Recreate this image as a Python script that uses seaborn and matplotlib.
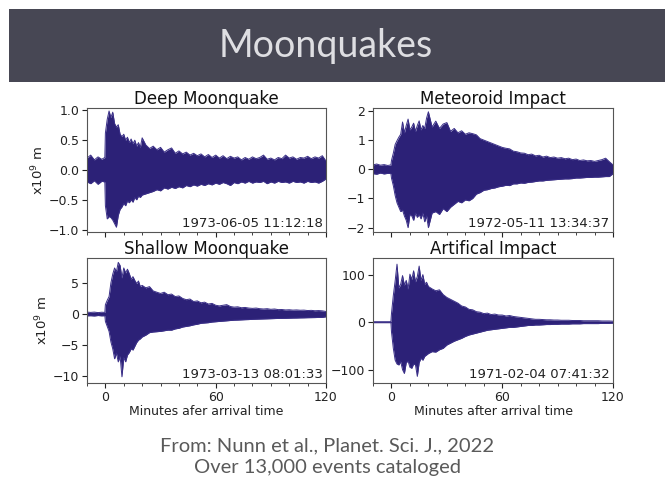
import numpy as np
import matplotlib
matplotlib.use("Agg")
import matplotlib.pyplot as plt
from matplotlib.ticker import MultipleLocator, FixedLocator
import pandas as pd
import seaborn as sns

sns.set_theme(style="ticks")
plt.rcParams['font.family'] = ['DejaVu Sans']

# minutes after arrival time (sampling of the read-off envelopes)
t_min = [-10, -8, -6, -4, -2, -0.3,
         0, 1, 2, 3, 4, 5, 6, 7, 8, 9, 10,
         11, 12, 13, 14, 15, 16, 17, 18, 19, 20,
         22, 24, 26, 28, 30, 32, 34, 36, 38, 40,
         42, 44, 46, 48, 50, 52, 54, 56, 58, 60,
         62, 64, 66, 68, 70, 72, 74, 76, 78, 80,
         82, 84, 86, 88, 90, 92, 94, 96, 98, 100,
         102, 104, 106, 108, 110, 112, 114, 116, 118, 120]

# envelope of each trace (x10^9 m), upper and lower
deep_up = [0.20, 0.25, 0.17, 0.22, 0.18, 0.21,
           0.62, 0.85, 0.99, 0.88, 0.97, 0.78, 0.72, 0.76, 0.60, 0.56, 0.60,
           0.50, 0.55, 0.46, 0.52, 0.44, 0.50, 0.40, 0.46, 0.38, 0.54,
           0.42, 0.36, 0.40, 0.34, 0.38, 0.30, 0.34, 0.37, 0.28, 0.32,
           0.27, 0.30, 0.25, 0.28, 0.24, 0.27, 0.22, 0.26, 0.21, 0.25,
           0.20, 0.24, 0.19, 0.23, 0.20, 0.22, 0.17, 0.21, 0.18, 0.22,
           0.19, 0.21, 0.25, 0.18, 0.20, 0.17, 0.21, 0.19, 0.25, 0.20,
           0.22, 0.18, 0.21, 0.20, 0.23, 0.19, 0.22, 0.20, 0.24, 0.15]
deep_lo = [-0.20, -0.23, -0.18, -0.24, -0.19, -0.20,
           -0.60, -0.82, -0.78, -0.80, -0.84, -0.90, -0.96, -0.76, -0.66, -0.62, -0.56,
           -0.60, -0.52, -0.55, -0.50, -0.54, -0.46, -0.50, -0.44, -0.46, -0.42,
           -0.40, -0.38, -0.36, -0.33, -0.35, -0.30, -0.32, -0.29, -0.31, -0.28,
           -0.30, -0.26, -0.28, -0.25, -0.27, -0.24, -0.26, -0.23, -0.25, -0.22,
           -0.24, -0.21, -0.23, -0.26, -0.21, -0.23, -0.20, -0.22, -0.19, -0.22,
           -0.20, -0.21, -0.19, -0.23, -0.20, -0.22, -0.19, -0.21, -0.20, -0.22,
           -0.19, -0.21, -0.20, -0.22, -0.19, -0.21, -0.20, -0.22, -0.19, -0.15]

met_up = [0.15, 0.18, 0.14, 0.16, 0.13, 0.15,
          0.30, 0.55, 0.85, 0.98, 1.10, 1.20, 1.62, 1.25, 1.50, 1.72, 1.35,
          1.45, 1.58, 1.30, 1.50, 1.66, 1.35, 1.50, 1.40, 1.75, 1.97,
          1.45, 1.65, 1.40, 1.55, 1.60, 1.30, 1.40, 1.25, 1.32, 1.20,
          1.25, 1.22, 1.18, 1.05, 1.00, 0.95, 0.90, 0.85, 0.80, 0.75,
          0.72, 0.70, 0.62, 0.60, 0.56, 0.55, 0.50, 0.52, 0.46, 0.48,
          0.42, 0.45, 0.40, 0.42, 0.38, 0.40, 0.36, 0.38, 0.33, 0.35,
          0.30, 0.32, 0.29, 0.30, 0.27, 0.30, 0.33, 0.38, 0.26, 0.15]
met_lo = [-0.15, -0.17, -0.13, -0.16, -0.14, -0.15,
          -0.30, -0.56, -0.90, -1.15, -1.30, -1.45, -1.40, -1.60, -1.75, -2.00, -1.55,
          -1.60, -1.75, -1.50, -1.65, -1.55, -1.70, -1.50, -1.80, -1.60, -2.00,
          -1.50, -1.45, -1.55, -1.35, -1.45, -1.30, -1.20, -1.10, -1.15, -1.05,
          -1.08, -1.00, -0.85, -0.80, -0.72, -0.70, -0.66, -0.64, -0.60, -0.58,
          -0.55, -0.56, -0.50, -0.50, -0.47, -0.48, -0.45, -0.44, -0.42, -0.40,
          -0.40, -0.38, -0.37, -0.36, -0.35, -0.34, -0.33, -0.33, -0.32, -0.30,
          -0.30, -0.29, -0.28, -0.28, -0.27, -0.27, -0.26, -0.25, -0.25, -0.15]

shal_up = [0.30, 0.25, 0.30, 0.22, 0.28, 0.25,
           1.5, 2.2, 2.8, 5.0, 6.4, 7.4, 6.8, 8.3, 7.8, 5.8, 7.4,
           6.6, 7.2, 6.5, 5.6, 6.0, 5.4, 4.9, 5.3, 4.4, 4.6,
           4.2, 4.4, 3.7, 3.5, 3.3, 3.5, 3.1, 3.2, 2.8, 2.9,
           2.5, 2.3, 2.4, 2.0, 2.1, 1.8, 1.9, 1.6, 1.7, 1.4,
           1.3, 1.4, 1.5, 1.2, 1.1, 1.15, 1.0, 1.05, 0.95, 0.9,
           0.95, 0.85, 0.8, 0.85, 0.75, 0.8, 0.7, 0.72, 0.65, 0.68,
           0.62, 0.65, 0.6, 0.62, 0.55, 0.58, 0.52, 0.55, 0.5, 0.4]
shal_lo = [-0.30, -0.28, -0.32, -0.25, -0.30, -0.28,
           -1.2, -2.0, -2.8, -4.5, -5.6, -7.2, -6.3, -7.7, -6.8, -10.1, -7.0,
           -7.7, -6.6, -6.2, -5.6, -5.8, -5.2, -4.6, -4.2, -4.0, -3.7,
           -3.4, -3.0, -2.9, -2.85, -2.8, -2.7, -2.6, -2.6, -2.4, -2.3,
           -2.1, -2.0, -1.9, -1.75, -1.65, -1.5, -1.45, -1.4, -1.3, -1.25,
           -1.2, -1.15, -1.1, -1.05, -1.0, -0.98, -0.95, -0.92, -0.9, -0.86,
           -0.84, -0.82, -0.8, -0.78, -0.76, -0.74, -0.72, -0.71, -0.7, -0.68,
           -0.66, -0.65, -0.63, -0.62, -0.6, -0.59, -0.58, -0.56, -0.55, -0.45]

art_up = [1, 1, 1, 1, 1, 1,
          18, 56, 87, 122, 72, 80, 98, 78, 88, 70, 101,
          90, 108, 85, 96, 118, 88, 100, 80, 84, 75,
          70, 66, 68, 58, 52, 48, 44, 40, 34, 32,
          27, 26, 22, 21, 18, 19, 16, 17, 15, 15,
          13, 14, 12, 11, 10, 9, 8, 7, 6, 6,
          5.5, 5, 5, 4.5, 4.5, 4, 4, 4, 3.5, 3.5,
          3.5, 3, 3, 3, 3, 3, 2.5, 2.5, 2.5, 2]
art_lo = [-1, -1, -1, -1, -1, -1,
          -20, -55, -80, -88, -90, -83, -100, -108, -85, -82, -95,
          -97, -88, -90, -114, -85, -76, -80, -72, -69, -66,
          -62, -63, -58, -55, -48, -44, -40, -37, -34, -30,
          -27, -25, -23, -21, -19, -17, -16, -15, -14, -13,
          -12, -11, -11, -10, -9, -8, -7, -7, -6, -6,
          -5.5, -5, -5, -4.5, -4.5, -4, -4, -4, -3.5, -3.5,
          -3.5, -3, -3, -3, -3, -3, -2.5, -2.5, -2.5, -2]

titles = ["Deep Moonquake", "Meteoroid Impact", "Shallow Moonquake", "Artifical Impact"]
dates = ["1973-06-05 11:12:18", "1972-05-11 13:34:37", "1973-03-13 08:01:33", "1971-02-04 07:41:32"]
yticks = [[-1.0, -0.5, 0.0, 0.5, 1.0], [-2, -1, 0, 1, 2], [-10, -5, 0, 5], [-100, 0, 100]]
ylims = [(-1.04, 1.04), (-2.15, 2.1), (-11.1, 9.0), (-128, 135)]
xlabels = [None, None, "Minutes afer arrival time", "Minutes after arrival time"]
uppers = [deep_up, met_up, shal_up, art_up]
lowers = [deep_lo, met_lo, shal_lo, art_lo]

color = "#2c2177"
slide_font = ["Lato", "DejaVu Sans"]

fig = plt.figure(figsize=(6.65, 4.84), dpi=100)
fig.patch.set_facecolor("white")

# slide header
fig.patches.append(plt.Rectangle((9 / 665, 1 - 82 / 484), 1, 73 / 484, transform=fig.transFigure,
                                 facecolor="#474754", edgecolor="none", zorder=0))
fig.text(0.49, 0.905, "Moonquakes", ha="center", va="center", color="#dedee2",
         fontsize=27, family=slide_font)

positions = [[87 / 665, 1 - 232 / 484, 239 / 665, 124 / 484],
             [373 / 665, 1 - 232 / 484, 240 / 665, 124 / 484],
             [87 / 665, 1 - 383 / 484, 239 / 665, 125 / 484],
             [373 / 665, 1 - 383 / 484, 240 / 665, 125 / 484]]

for i in range(4):
    ax = fig.add_axes(positions[i])
    df = pd.DataFrame({"t": t_min, "up": uppers[i], "lo": lowers[i]})
    ax.fill_between(df["t"], df["lo"], df["up"], color=color, linewidth=0)
    sns.lineplot(data=df, x="t", y="up", ax=ax, color="#3a2f88", linewidth=0.7)
    sns.lineplot(data=df, x="t", y="lo", ax=ax, color="#3a2f88", linewidth=0.7)

    ax.set_xlim(-10, 120)
    ax.set_ylim(*ylims[i])
    ax.xaxis.set_major_locator(FixedLocator([0, 60, 120]))
    ax.xaxis.set_minor_locator(MultipleLocator(10))
    ax.yaxis.set_major_locator(FixedLocator(yticks[i]))
    ax.tick_params(axis="both", which="major", length=3.5, width=0.8, labelsize=9,
                   colors="#222222", pad=2)
    ax.tick_params(axis="x", which="minor", length=2, width=0.6, colors="#222222")
    for s in ax.spines.values():
        s.set_color("#555555")
        s.set_linewidth(0.8)

    if i < 2:
        ax.set_xticklabels([])
        ax.set_xlabel("")
    else:
        ax.set_xlabel(xlabels[i], fontsize=9, labelpad=1, color="#222222")
    if i % 2 == 0:
        ax.set_ylabel("x10$^9$ m", fontsize=9.5, labelpad=2, color="#222222")
    else:
        ax.set_ylabel("")

    ax.set_title(titles[i], fontsize=12, pad=1.5, color="#111111")
    ax.text(0.985, 0.02, dates[i], transform=ax.transAxes, ha="right", va="bottom",
            fontsize=9.5, color="#222222")

fig.text(0.492, 1 - 446 / 484, "From: Nunn et al., Planet. Sci. J., 2022", ha="center",
         va="center", fontsize=14.5, color="#5a5a5a", family=slide_font)
fig.text(0.492, 1 - 468 / 484, "Over 13,000 events cataloged", ha="center",
         va="center", fontsize=14.5, color="#5a5a5a", family=slide_font)

fig.savefig("out.png", dpi=100)
